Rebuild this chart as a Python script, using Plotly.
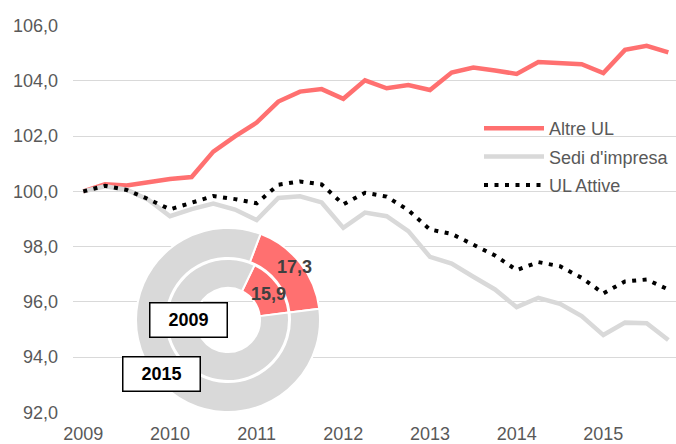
import plotly.graph_objects as go

years = [2009, 2010, 2011, 2012, 2013, 2014, 2015]
quarters = [y + q / 4 for y in years for q in range(4)]

altre_ul = [100.0, 100.26, 100.21, 100.33, 100.45, 100.52, 101.44, 101.99, 102.49, 103.25,
            103.61, 103.70, 103.35, 104.02, 103.73, 103.85, 103.67, 104.30, 104.48, 104.37,
            104.25, 104.68, 104.66, 104.60, 104.28, 105.12, 105.27, 105.03]
sedi = [100.0, 100.18, 100.06, 99.70, 99.10, 99.36, 99.56, 99.34, 98.96, 99.76,
        99.82, 99.60, 98.68, 99.23, 99.10, 98.56, 97.63, 97.39, 96.91, 96.45,
        95.81, 96.15, 95.93, 95.49, 94.80, 95.25, 95.23, 94.62]
ul_attive = [100.0, 100.20, 100.05, 99.72, 99.35, 99.58, 99.83, 99.72, 99.57, 100.24,
             100.36, 100.25, 99.53, 99.95, 99.81, 99.32, 98.62, 98.46, 98.09, 97.68,
             97.15, 97.44, 97.29, 96.87, 96.31, 96.74, 96.81, 96.45]

share_2009 = [15.9, 84.1]
share_2015 = [17.3, 82.7]
share_labels = ["Altre UL", "Sedi d'impresa"]

RED = "#FF7070"
GRAY = "#D9D9D9"
TXT = "#595959"
FONT = "Liberation Sans, Arial, sans-serif"

fig = go.Figure()
fig.add_trace(go.Scatter(x=quarters, y=altre_ul, mode="lines", name="Altre UL", legendgroup="a",
                         line=dict(color=RED, width=4.5)))
fig.add_trace(go.Scatter(x=quarters, y=sedi, mode="lines", name="Sedi d'impresa", legendgroup="b",
                         line=dict(color=GRAY, width=4.5)))
fig.add_trace(go.Scatter(x=quarters, y=ul_attive, mode="lines", name="UL Attive", legendgroup="c",
                         line=dict(color="black", width=4, dash="4px,6.5px")))

# donut: outer ring 2015, inner ring 2009
W, H = 676, 444
ml, mr, mt, mb = 73, 0, 25, 31
pw, ph = W - ml - mr, H - mt - mb
cx, cy = 228, 320
def dom(r):
    return dict(x=[(cx - r - ml) / pw, (cx + r - ml) / pw],
                y=[(H - mb - (cy + r)) / ph, (H - mb - (cy - r)) / ph])

fig.add_trace(go.Pie(values=share_2015, labels=share_labels, domain=dom(92), hole=62 / 92,
                     sort=False, direction="clockwise", rotation=20.7,
                     marker=dict(colors=[RED, GRAY], line=dict(color="white", width=2)),
                     textinfo="none", showlegend=False, hoverinfo="skip"))
fig.add_trace(go.Pie(values=share_2009, labels=share_labels, domain=dom(61), hole=32 / 61,
                     sort=False, direction="clockwise", rotation=25.8,
                     marker=dict(colors=[RED, GRAY], line=dict(color="white", width=2)),
                     textinfo="none", showlegend=False, hoverinfo="skip"))

def px(x, y):
    return (x - ml) / pw, (H - mb - y) / ph

anns = []
for (x, y), t in [((294, 266.5), "17,3"), ((268, 294), "15,9")]:
    ax, ay = px(x, y)
    anns.append(dict(x=ax, y=ay, xref="paper", yref="paper", text="<b>%s</b>" % t,
                     xanchor="center", yanchor="middle",
                     showarrow=False, font=dict(family=FONT, size=18, color="#404040")))
for (x, y), t in [((188.8, 320), "2009"), ((161.7, 373.7), "2015")]:
    ax, ay = px(x, y)
    anns.append(dict(x=ax, y=ay, xref="paper", yref="paper", text="<b>%s</b>" % t,
                     xanchor="center", yanchor="middle",
                     showarrow=False, font=dict(family=FONT, size=18, color="black"),
                     bgcolor="white", bordercolor="black", borderwidth=1.5,
                     width=74, height=31))

fig.update_layout(
    width=W, height=H,
    margin=dict(l=ml, r=mr, t=mt, b=mb, autoexpand=False),
    paper_bgcolor="white", plot_bgcolor="white",
    separators=",.",
    font=dict(family=FONT, size=18, color=TXT),
    showlegend=True,
    legend=dict(x=(479 - ml) / pw, y=(H - mb - 110) / ph, xanchor="left", yanchor="top",
                bgcolor="rgba(0,0,0,0)", itemwidth=60, font=dict(size=18, color=TXT),
                tracegroupgap=2),
    annotations=anns,
    xaxis=dict(range=[2009 - 0.119, 2009 - 0.119 + pw / 86.67], tickvals=years,
               ticktext=[str(y) for y in years], showgrid=False, zeroline=False,
               showline=False, ticks="", ticklabelstandoff=8, automargin=False,
               tickfont=dict(size=18, color=TXT)),
    yaxis=dict(range=[91.98, 106.02], tickvals=[92, 94, 96, 98, 100, 102, 104, 106],
               tickformat=".1f", showgrid=True, gridcolor=GRAY, gridwidth=1.3,
               zeroline=False, showline=False, ticks="", ticklabelstandoff=14,
               automargin=False, tickfont=dict(size=18, color=TXT)),
)

fig.write_html("out.html", config={"displayModeBar": False},
               post_script="document.body.style.margin='0';")
